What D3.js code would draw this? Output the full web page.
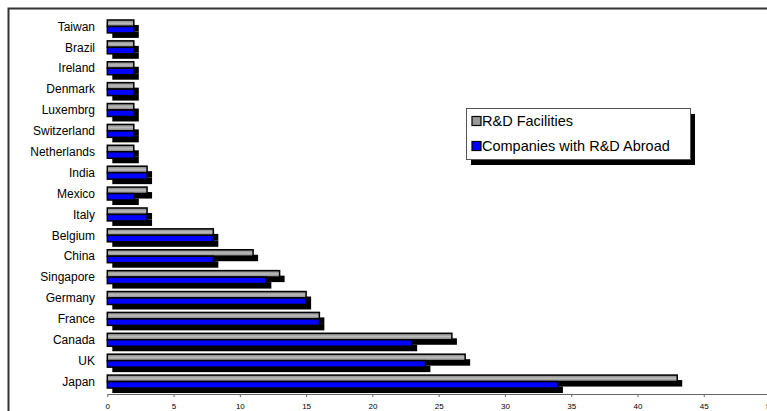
<!DOCTYPE html>
<html>
<head>
<meta charset="utf-8">
<script src="https://cdn.jsdelivr.net/npm/d3@7/dist/d3.min.js"></script>
<style>
  html, body { margin: 0; padding: 0; background: #fff; }
  svg { display: block; }
  text { font-family: "Liberation Sans", Arial, sans-serif; }
</style>
</head>
<body>
<svg id="chart" width="767" height="411"></svg>
<script>
// Countries, listed top to bottom
const categories = ["Taiwan", "Brazil", "Ireland", "Denmark", "Luxembrg", "Switzerland",
  "Netherlands", "India", "Mexico", "Italy", "Belgium", "China", "Singapore",
  "Germany", "France", "Canada", "UK", "Japan"];

// Number of R&D facilities per country
const rdFacilities = [2, 2, 2, 2, 2, 2, 2, 3, 3, 3, 8, 11, 13, 15, 16, 26, 27, 43];

// Number of companies with R&D abroad per country
const companiesAbroad = [2, 2, 2, 2, 2, 2, 2, 3, 2, 3, 8, 8, 12, 15, 16, 23, 24, 34];

const seriesNames = ["R&D Facilities", "Companies with R&D Abroad"];
const xTicks = [0, 5, 10, 15, 20, 25, 30, 35, 40, 45, 50];

const svg = d3.select("#chart");
const W = 767, H = 411;

// Gray fill with a lighter core, like a bevelled bar
const defs = svg.append("defs");
const grad = defs.append("linearGradient").attr("id", "grayFill")
  .attr("x1", 0).attr("y1", 0).attr("x2", 0).attr("y2", 1);
grad.append("stop").attr("offset", "0%").attr("stop-color", "#7a7a7a");
grad.append("stop").attr("offset", "50%").attr("stop-color", "#bdbdbd");
grad.append("stop").attr("offset", "100%").attr("stop-color", "#7a7a7a");

const x = d3.scaleLinear().domain([0, 50]).range([107.3, 770]);
const y = d3.scaleBand().domain(categories).range([16, 392])
  .paddingInner(0.38).paddingOuter(0.19);
const ys = d3.scaleBand().domain(seriesNames).range([0, y.bandwidth()]);

const fills = { "R&D Facilities": "url(#grayFill)", "Companies with R&D Abroad": "#0000ff" };
const shadowDx = 5, shadowDy = 5;

// Outer frame (top and left edges)
svg.append("path")
  .attr("d", `M8.5,${H} V8.5 H${W}`)
  .attr("fill", "none").attr("stroke", "#333").attr("stroke-width", 2);

const rows = categories.map((c, i) => ({
  cat: c,
  vals: [
    { s: seriesNames[0], v: rdFacilities[i] },
    { s: seriesNames[1], v: companiesAbroad[i] }
  ]
}));
const barData = rows.flatMap(r => r.vals.map(d => ({ cat: r.cat, s: d.s, v: d.v })));

// Drop shadows first, bars over them
svg.append("g").selectAll("rect").data(barData).join("rect")
  .attr("x", x(0) + shadowDx)
  .attr("y", d => y(d.cat) + ys(d.s) + shadowDy)
  .attr("width", d => x(d.v) - x(0))
  .attr("height", ys.bandwidth())
  .attr("fill", "#000");

svg.append("g").selectAll("rect").data(barData).join("rect")
  .attr("x", x(0))
  .attr("y", d => y(d.cat) + ys(d.s))
  .attr("width", d => x(d.v) - x(0))
  .attr("height", ys.bandwidth())
  .attr("fill", d => fills[d.s])
  .attr("stroke", "#000").attr("stroke-width", 1.5);

// Category labels
svg.append("g").selectAll("text").data(categories).join("text")
  .attr("x", 95)
  .attr("y", d => y(d) + y.bandwidth() / 2)
  .attr("dy", "0.35em")
  .attr("text-anchor", "end")
  .attr("font-size", 12)
  .attr("fill", "#000")
  .text(d => d);

// Value axis along the bottom
const xAxis = svg.append("g").attr("transform", "translate(0,394)")
  .call(d3.axisBottom(x).tickValues(xTicks).tickSize(3).tickSizeOuter(0).tickPadding(6));
xAxis.select(".domain").attr("stroke", "#666");
xAxis.selectAll(".tick line").attr("stroke", "#666");
xAxis.selectAll(".tick text").attr("font-size", 8)
  .attr("font-family", "'Liberation Sans', Arial, sans-serif").attr("fill", "#000");

// Legend box with shadow
const lg = svg.append("g").attr("transform", "translate(466,108)");
const lw = 224, lh = 51;
lg.append("rect").attr("x", 5).attr("y", 6).attr("width", lw).attr("height", lh).attr("fill", "#000");
lg.append("rect").attr("x", 0.5).attr("y", 0.5).attr("width", lw).attr("height", lh)
  .attr("fill", "#fff").attr("stroke", "#555").attr("stroke-width", 1);
const li = lg.selectAll("g.item").data(seriesNames).join("g").attr("class", "item")
  .attr("transform", (d, i) => `translate(6,${13 + i * 25})`);
li.append("rect").attr("x", 0).attr("y", -4.5).attr("width", 9).attr("height", 9)
  .attr("fill", d => d === seriesNames[0] ? "#999" : "#0000ff")
  .attr("stroke", "#000").attr("stroke-width", 1.2);
li.append("text").attr("x", 10).attr("y", 0).attr("dy", "0.35em")
  .attr("font-size", 14.5).attr("fill", "#000").text(d => d);
</script>
</body>
</html>
